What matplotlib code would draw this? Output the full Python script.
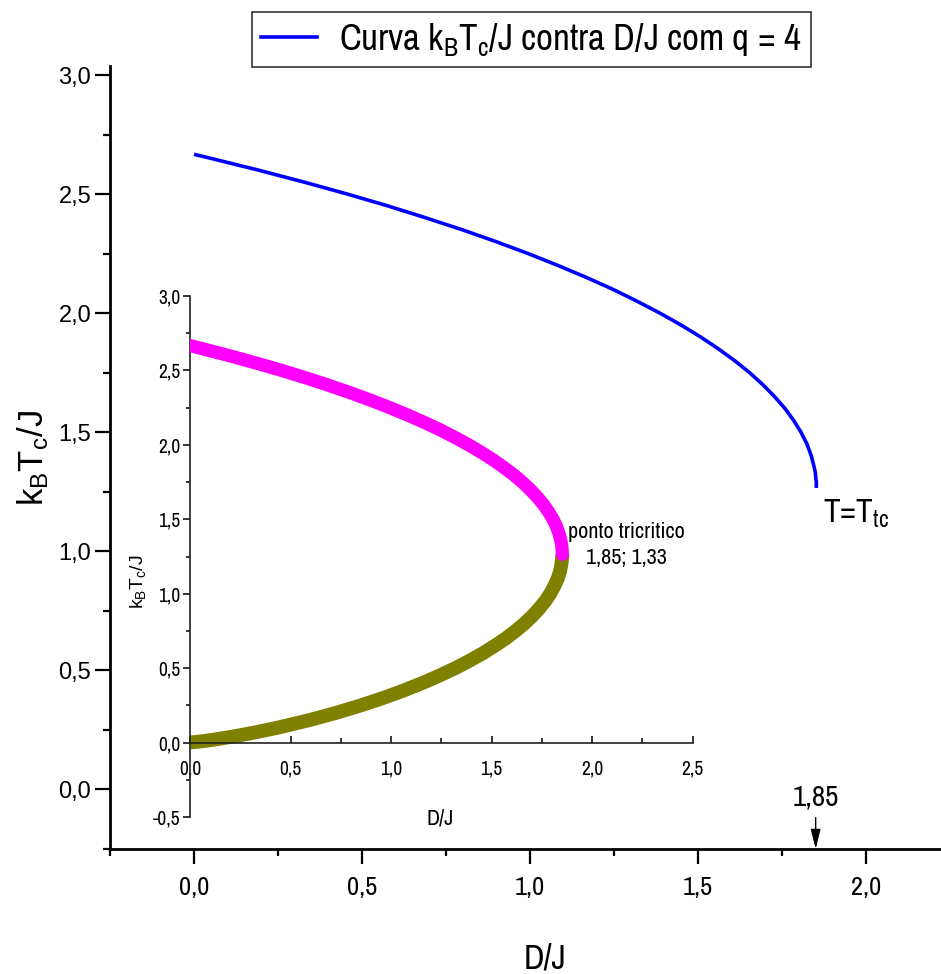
import matplotlib
matplotlib.use("Agg")
import matplotlib.pyplot as plt
from matplotlib.lines import Line2D
from matplotlib.ticker import MultipleLocator, FuncFormatter

# Critical line of the Blume-Capel model (q = 4): upper (second-order) branch
T_upper = [2.667, 2.65, 2.60, 2.55, 2.50, 2.45, 2.40, 2.35, 2.30, 2.25,
           2.20, 2.15, 2.10, 2.05, 2.00, 1.95, 1.90, 1.85, 1.80, 1.75,
           1.70, 1.65, 1.60, 1.55, 1.50, 1.45, 1.40, 1.35, 1.33, 1.30,
           1.29, 1.28, 1.265]
D_upper = [0.000, 0.050, 0.193, 0.328, 0.456, 0.577, 0.690, 0.798, 0.899, 0.994,
           1.083, 1.167, 1.246, 1.318, 1.386, 1.449, 1.507, 1.560, 1.609, 1.653,
           1.692, 1.727, 1.758, 1.784, 1.806, 1.824, 1.837, 1.846, 1.849, 1.851,
           1.852, 1.852, 1.852]

# Lower branch, from the turning point down to the origin
T_lower = [1.265, 1.25, 1.20, 1.15, 1.10, 1.05, 1.00, 0.95, 0.90, 0.85,
           0.80, 0.75, 0.70, 0.65, 0.60, 0.55, 0.50, 0.45, 0.40, 0.35,
           0.30, 0.25, 0.20, 0.15, 0.10, 0.07, 0.05, 0.03, 0.02, 0.01, 0.00]
D_lower = [1.852, 1.852, 1.848, 1.841, 1.829, 1.812, 1.792, 1.767, 1.737, 1.703,
           1.664, 1.620, 1.571, 1.516, 1.457, 1.391, 1.320, 1.241, 1.156, 1.063,
           0.962, 0.850, 0.728, 0.591, 0.436, 0.330, 0.253, 0.167, 0.120, 0.067, 0.000]

D_tc = 1.85
tricritical_label = "1,85; 1,33"

NARROW = ["Archivo Narrow", "DejaVu Sans"]
WIDE = ["Liberation Sans", "DejaVu Sans"]

plt.rcParams["font.family"] = NARROW
plt.rcParams["mathtext.default"] = "regular"

W, H = 941, 974
fig = plt.figure(figsize=(W / 100, H / 100), dpi=100)


def fx(px):
    return px / W


def fy(py):
    return 1 - py / H


comma = FuncFormatter(lambda v, p: f"{v:.1f}".replace(".", ","))

# ---------------- main axes ----------------
L, R, B, T = 110, 941, 849, 66
ax = fig.add_axes([fx(L), fy(B), fx(R) - fx(L), fy(T) - fy(B)])
ax.set_xlim(-0.25, 2.223)
ax.set_ylim(-0.252, 3.038)
for s in ("top", "right"):
    ax.spines[s].set_visible(False)
for s in ("left", "bottom"):
    ax.spines[s].set_linewidth(2.0)

ax.plot(D_upper, T_upper, color="#0000FF", lw=2.6, solid_capstyle="butt")

ax.xaxis.set_major_locator(MultipleLocator(0.5))
ax.xaxis.set_minor_locator(MultipleLocator(0.25))
ax.yaxis.set_major_locator(MultipleLocator(0.5))
ax.yaxis.set_minor_locator(MultipleLocator(0.25))
ax.xaxis.set_major_formatter(comma)
ax.yaxis.set_major_formatter(comma)
ax.tick_params(which="major", length=10.5, width=1.6, direction="out")
ax.tick_params(which="minor", length=5.3, width=1.6, direction="out")
ax.tick_params(axis="x", which="major", pad=9, labelsize=19)
ax.tick_params(axis="y", which="major", pad=3, labelsize=17)
for lab in ax.get_yticklabels():
    lab.set_fontfamily(WIDE)

# 1,85 marker on the D axis
ax.annotate("", xy=(D_tc, -0.252), xytext=(D_tc, -0.12),
            arrowprops=dict(arrowstyle="-|>,head_length=0.8,head_width=0.2",
                            color="black", lw=1.0, mutation_scale=15,
                            shrinkA=0, shrinkB=0))
ax.text(D_tc, -0.035, "1,85", ha="center", va="center", fontsize=21)

ax.text(1.872, 1.118, r"T=T$_{tc}$", ha="left", va="baseline", fontsize=24)

fig.text(fx(545), fy(958), "D/J", ha="center", va="center", fontsize=25)
fig.text(fx(33), fy(458), r"k$_B$T$_c$/J", ha="center", va="center",
         rotation=90, fontsize=25, family=WIDE)

leg = fig.legend(handles=[Line2D([], [], color="#0000FF", lw=2.6)],
                 labels=[r"Curva k$_B$T$_c$/J contra D/J com q = 4"],
                 loc="upper left", bbox_to_anchor=(fx(252), fy(12)),
                 fontsize=26.5, frameon=True, fancybox=False, edgecolor="black",
                 handlelength=1.52, handletextpad=0.6, borderpad=0.25,
                 borderaxespad=0)
leg.get_frame().set_linewidth(1.2)

# ---------------- inset ----------------
iL, iR, iB, iT = 190, 692.5, 817, 296
ins = fig.add_axes([fx(iL), fy(iB), fx(iR) - fx(iL), fy(iT) - fy(iB)])
ins.set_xlim(0, 2.5)
ins.set_ylim(-0.5, 3.0)
ins.patch.set_alpha(0)
for s in ("top", "right"):
    ins.spines[s].set_visible(False)
ins.spines["bottom"].set_position(("data", 0))
for s in ("left", "bottom"):
    ins.spines[s].set_linewidth(1.2)
    ins.spines[s].set_color("#222222")

ins.plot(D_lower, T_lower, color="#808000", lw=10, solid_capstyle="butt", zorder=2)
ins.plot(D_upper, T_upper, color="#FF00FF", lw=9.5, solid_capstyle="round", zorder=3)

ins.xaxis.set_major_locator(MultipleLocator(0.5))
ins.xaxis.set_minor_locator(MultipleLocator(0.25))
ins.yaxis.set_major_locator(MultipleLocator(0.5))
ins.yaxis.set_minor_locator(MultipleLocator(0.25))
ins.xaxis.set_major_formatter(comma)
ins.yaxis.set_major_formatter(comma)
ins.tick_params(axis="x", which="major", direction="in", length=5, width=1.1,
                labelsize=14, pad=12)
ins.tick_params(axis="x", which="minor", direction="in", length=3.5, width=1.1)
ins.tick_params(axis="y", which="major", direction="out", length=5, width=1.1,
                labelsize=14, pad=2)
ins.tick_params(axis="y", which="minor", direction="out", length=3, width=1.1)

ins.text(2.17, 1.415, "ponto tricritico", ha="center", va="center", fontsize=16)
ins.text(2.17, 1.24, tricritical_label, ha="center", va="center", fontsize=16)

fig.text(fx(440), fy(818), "D/J", ha="center", va="center", fontsize=16)
fig.text(fx(138), fy(582), r"k$_B$T$_c$/J", ha="center", va="center",
         rotation=90, fontsize=14, family=WIDE)

fig.savefig("out.png", dpi=100)
